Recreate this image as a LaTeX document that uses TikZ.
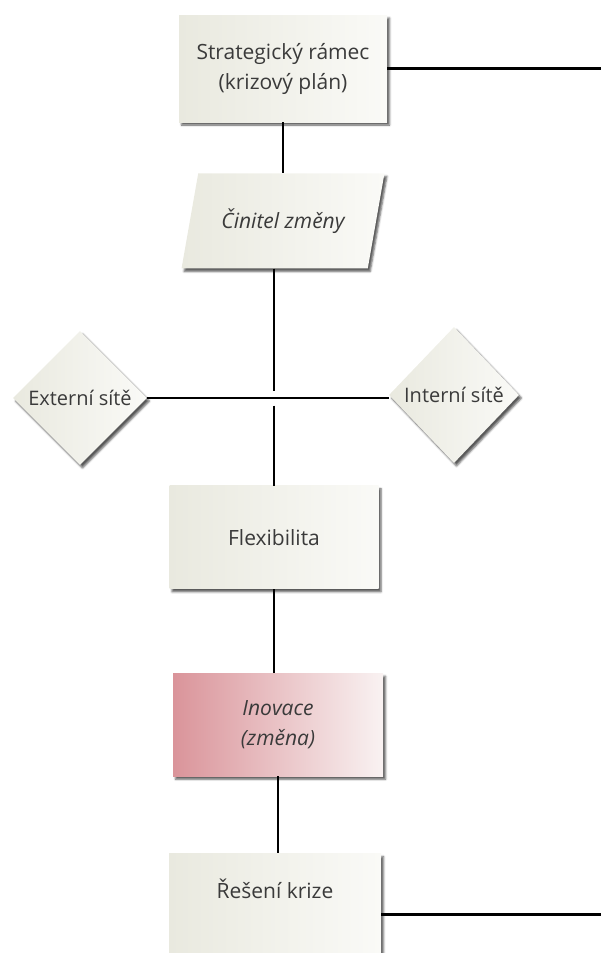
\documentclass[tikz,border=0pt]{standalone}
\usepackage{fontspec}
\setmainfont{Open Sans}
\usepackage{tikz}
\usetikzlibrary{positioning,shapes.geometric,shadows.blur}
\definecolor{boxleft}{HTML}{E9E9DF}
\definecolor{boxright}{HTML}{FAFAF7}
\definecolor{pinkleft}{HTML}{DA949A}
\definecolor{pinkright}{HTML}{F9F2F2}
\definecolor{labeltext}{HTML}{3A3A3A}
\tikzset{
  stepbox/.style={rectangle, align=center, left color=boxleft, right color=boxright, text=labeltext,
    font=\fontsize{21}{30}\selectfont, minimum width=209pt, minimum height=103pt,
    blur shadow={shadow xshift=2.5pt, shadow yshift=-3pt, shadow blur radius=2pt, shadow opacity=65}},
  agentbox/.style={stepbox, trapezium, trapezium left angle=68, trapezium right angle=112,
    trapezium stretches=true, minimum width=203pt, minimum height=95pt},
  netdiamond/.style={stepbox, diamond, aspect=1, inner sep=0pt, minimum width=134pt, minimum height=134pt,
    font=\fontsize{20}{24}\selectfont},
  hotbox/.style={stepbox, left color=pinkleft, right color=pinkright},
  link/.style={draw=black, line width=2.8pt}
}
\begin{document}
\begin{tikzpicture}[x=1pt, y=-1pt]
  \useasboundingbox (0,0) rectangle (601,953);
  \coordinate (edge) at (601,0);
  \node[stepbox, minimum width=208pt, minimum height=107pt] (rama) at (283,68.5) {Strategický rámec\\(krizový plán)};
  \node[agentbox, below=51pt of rama] (cinitel) {\itshape Činitel změny};
  \node[stepbox, below=217pt of cinitel, xshift=-9pt] (flex) {Flexibilita};
  \node[hotbox, below=84pt of flex, xshift=4pt, minimum width=210pt] (inov) {\itshape Inovace\\\itshape (změna)};
  \node[stepbox, below=77pt of inov, xshift=-3pt, minimum width=212pt, minimum height=0pt,
    inner ysep=0pt, text height=45pt, text depth=77pt] (res) {Řešení krize};
  \node[netdiamond] (ext) at (80,398) {Externí sítě};
  \node[netdiamond, minimum width=130pt, minimum height=136pt] (int) at (454,395) {Interní sítě};

  \draw[link] (rama.east) -- (rama.east -| edge);
  \draw[link] (res.east) -- (res.east -| edge);
  \draw[link] (rama.south) -- (rama.south |- cinitel.north);
  % gap where the vertical line passes the network line
  \coordinate (cross) at (ext.east -| flex.north);
  \draw[link] (cinitel.south -| flex.north) -- ([yshift=7.5pt]cross);
  \draw[link] ([yshift=-7.5pt]cross) -- (flex.north);
  \draw[link] (ext.east) -- (ext.east -| int.west);
  \draw[link] (flex.south) -- (flex.south |- inov.north);
  \draw[link] (inov.south) -- (inov.south |- res.north);
\end{tikzpicture}
\end{document}
